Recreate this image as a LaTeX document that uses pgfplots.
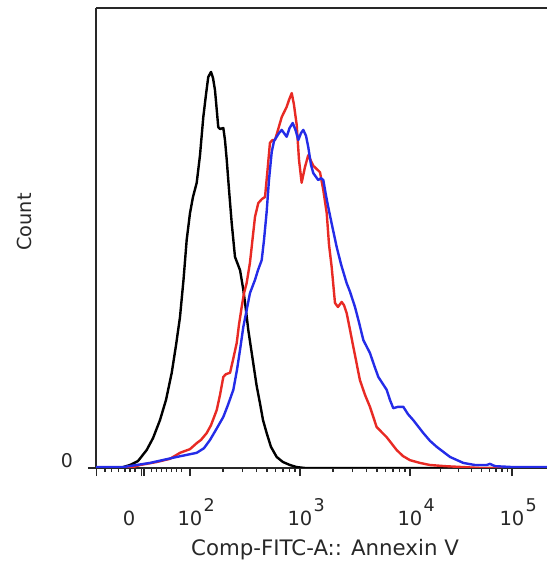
\documentclass[border=0pt]{standalone}
\usepackage{fontspec}
\setmainfont{DejaVu Sans}
\usepackage{pgfplots}
\pgfplotsset{compat=1.18}
\definecolor{fred}{RGB}{232,42,36}
\definecolor{fblue}{RGB}{36,44,232}
\definecolor{axgray}{RGB}{40,40,40}
\newcommand{\ex}[1]{10\rlap{\hspace{0.6bp}\raisebox{6.8bp}{\fontsize{8.8}{10}\selectfont #1}}}
\begin{document}
\begin{tikzpicture}
\begin{axis}[
  at={(0,0)}, anchor=south west,
  scale only axis, width=225.5bp, height=230bp,
  xmin=1.1455, xmax=5.2455, ymin=0, ymax=100,
  axis x line*=bottom, axis y line*=left,
  axis line style={axgray, line width=1.2bp},
  clip mode=individual,
  tick align=outside,
  major tick length=4bp, minor tick length=2bp,
  tick style={axgray, line width=0.7bp},
  xtick={1.151,1.561,1.582,2,3,4,4.927},
  xticklabels={,,,\ex{2},\ex{3},\ex{4},\ex{5}},
  minor xtick={1.227,1.288,1.348,1.409,1.455,1.5,1.652,1.697,1.742,1.788,1.834,1.879,1.925,
    2.301,2.477,2.602,2.699,2.778,2.845,2.903,2.954,
    3.301,3.477,3.602,3.699,3.778,3.845,3.903,3.954,
    4.279,4.442,4.558,4.648,4.721,4.783,4.837,4.884},
  extra x ticks={1.4455}, extra x tick labels={0},
  extra x tick style={tick style={draw=none}},
  xticklabel style={font=\fontsize{9.8}{11}\selectfont, text=axgray, anchor=base, yshift=-24.5bp},
  ytick={0}, yticklabels={0},
  yticklabel style={font=\fontsize{9.5}{11}\selectfont, text=axgray, anchor=base east, xshift=-4bp, yshift=0.5bp},
  every axis x label/.style={at={(axis description cs:0.5,0)}, anchor=base, yshift=-43.5bp, xshift=1.75bp, font=\fontsize{10.7}{12}\selectfont, text=axgray},
  every axis y label/.style={at={(axis description cs:-0.142,0.535)}, rotate=90, anchor=base, font=\fontsize{9.7}{11}\selectfont, text=axgray},
  xlabel={Comp-FITC-A:: Annexin V},
  ylabel={Count},
]
\draw[axgray, line width=1.2bp] (rel axis cs:0,1) -- (rel axis cs:1,1);
% control (black)
\addplot[black, line width=1.2bp, line join=round] coordinates {
(1.1455,0) (1.364,0) (1.455,0.65) (1.527,1.5) (1.606,3.9) (1.664,6.5) (1.727,10.4)
(1.782,14.8) (1.834,20.7) (1.873,26.7) (1.909,32.8) (1.941,40.9) (1.970,49.6)
(2.0,55.4) (2.027,58.9) (2.061,62.0) (2.091,68.0) (2.121,76.3) (2.145,81.1)
(2.166,85.0) (2.191,86.1) (2.209,84.8) (2.227,82.2) (2.245,77.4) (2.257,74.1)
(2.273,73.7) (2.303,73.9) (2.318,71.3) (2.334,67.0) (2.355,60.4) (2.379,53.3)
(2.409,45.9) (2.455,43.0) (2.485,38.7) (2.509,34.3) (2.530,30.0) (2.575,22.8)
(2.605,18.0) (2.636,14.1) (2.664,10.4) (2.697,7.6) (2.736,4.6) (2.788,2.4)
(2.845,1.3) (2.909,0.65) (2.97,0.2) (3.045,0) (5.2455,0)
};
% red
\addplot[fred, line width=1.2bp, line join=round] coordinates {
(1.1455,0) (1.4545,0) (1.545,0.65) (1.697,1.3) (1.818,2.0) (1.909,3.3) (2.0,4.1)
(2.061,5.4) (2.1,6.1) (2.152,7.6) (2.191,9.3) (2.243,12.6) (2.273,15.9) (2.303,19.8)
(2.327,20.4) (2.364,20.7) (2.391,23.5) (2.425,27.2) (2.445,31.1) (2.470,35.0)
(2.491,38.0) (2.515,40.2) (2.545,44.6) (2.568,49.6) (2.591,54.6) (2.621,57.6)
(2.655,58.5) (2.682,58.9) (2.705,64.8) (2.727,70.7) (2.75,71.3) (2.773,71.3)
(2.8,73.5) (2.834,76.3) (2.879,78.5) (2.9,80.0) (2.925,81.5) (2.945,79.0)
(2.97,74.6) (2.991,67.0) (3.015,62.0) (3.045,65.4) (3.075,68.0) (3.121,65.7)
(3.182,64.3) (3.212,60.4) (3.243,55.4) (3.264,48.5) (3.288,43.7) (3.318,35.9)
(3.345,35.0) (3.379,36.1) (3.4,35.4) (3.424,33.7) (3.455,30.0) (3.485,26.3)
(3.545,19.1) (3.591,15.9) (3.636,13.3) (3.697,8.9) (3.788,6.7) (3.879,3.9)
(3.936,2.6) (4.0,1.7) (4.091,1.1) (4.182,0.65) (4.318,0.4) (4.482,0.2) (4.636,0) (5.2455,0)
};
% blue
\addplot[fblue, line width=1.2bp, line join=round] coordinates {
(1.1455,0.2) (1.391,0.2) (1.636,1.1) (1.879,2.4) (2.061,3.3) (2.127,4.3) (2.182,6.1)
(2.236,8.3) (2.303,11.1) (2.345,13.7) (2.394,17.0) (2.427,21.3) (2.455,25.7)
(2.485,30.7) (2.515,34.3) (2.545,38.0) (2.591,40.9) (2.618,43.0) (2.652,45.2)
(2.673,49.6) (2.697,55.7) (2.718,62.6) (2.743,68.7) (2.764,71.1) (2.788,72.0)
(2.809,72.8) (2.834,73.5) (2.855,72.8) (2.879,72.0) (2.905,73.9) (2.934,75.0)
(2.959,73.5) (2.985,71.3) (3.009,72.8) (3.03,73.5) (3.055,72.2) (3.075,69.8)
(3.1,65.9) (3.121,64.1) (3.166,62.6) (3.191,63.0) (3.212,62.6) (3.236,59.3)
(3.257,56.7) (3.291,52.8) (3.334,48.0) (3.373,44.3) (3.424,40.2) (3.455,38.3)
(3.5,35.0) (3.536,31.7) (3.576,27.8) (3.636,25.0) (3.673,22.4) (3.712,19.8)
(3.788,17.0) (3.818,14.8) (3.848,13.0) (3.891,13.3) (3.939,13.3) (3.982,11.7)
(4.03,10.4) (4.121,7.6) (4.182,5.9) (4.243,4.6) (4.364,2.4) (4.485,1.1) (4.591,0.65)
(4.697,0.65) (4.727,0.9) (4.773,0.4) (4.936,0.2) (5.2455,0.2)
};
\end{axis}
\pgfresetboundingbox
\useasboundingbox (-48bp,-48.5bp) rectangle (225.5bp,234bp);
\end{tikzpicture}
\end{document}
